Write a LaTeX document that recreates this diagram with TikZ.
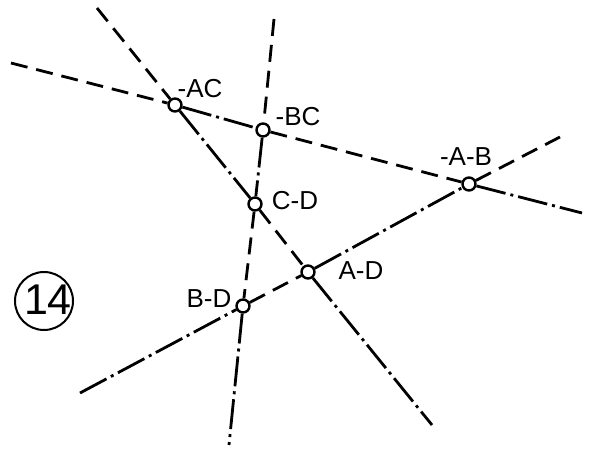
\documentclass[tikz,border=0pt]{standalone}
\usepackage{fontspec}
\setmainfont{Liberation Sans}
\begin{document}
\begin{tikzpicture}[x=1pt,y=-1pt,
  ln/.style={line width=2.8pt},
  dsh/.style={ln, dash pattern=on 17pt off 9pt},
  dd/.style={ln, dash pattern=on 30pt off 5pt on 3pt off 5pt},
  pt/.style={circle, draw, line width=2.4pt, fill=white, minimum size=13pt, inner sep=0pt},
  lab/.style={font=\fontsize{26}{30}\selectfont, inner sep=0pt}]
\useasboundingbox (0,0) rectangle (595,450);
% end points
\coordinate (l1a) at (11,63);
\coordinate (l1b) at (582,213);
\coordinate (l2a) at (97,8);
\coordinate (l2b) at (432,425);
\coordinate (l3a) at (274,19);
\coordinate (l3b) at (229,445);
\coordinate (l4a) at (80,393);
\coordinate (l4b) at (560,137);
% intersection points
\node[pt] (AC) at (175,105) {};
\node[pt] (BC) at (263,130) {};
\node[pt] (AB) at (469,184) {};
\node[pt] (CD) at (255,204) {};
\node[pt] (AD) at (308,272) {};
\node[pt] (BD) at (243,306) {};
% line 1
\draw[dsh] (l1a) -- (AC);
\draw[dd] (AC) -- (BC);
\draw[dsh] (BC) -- (AB);
\draw[dd] (AB) -- (l1b);
% line 2
\draw[dsh] (l2a) -- (AC);
\draw[dd] (AC) -- (CD);
\draw[dsh] (CD) -- (AD);
\draw[dd] (AD) -- (l2b);
% line 3
\draw[dsh] (l3a) -- (BC);
\draw[dd] (BC) -- (CD);
\draw[dsh] (CD) -- (BD);
\draw[dd] (BD) -- (l3b);
% line 4
\draw[dd] (l4a) -- (BD);
\draw[dsh] (BD) -- (AD);
\draw[dd] (AD) -- (AB);
\draw[dsh] (AB) -- (l4b);
% labels
\node[lab] (tAC) at (200,89) {-AC};
\node[lab] (tBC) at (298,117) {-BC};
\node[lab] (tAB) at (466,157) {-A-B};
\node[lab] (tCD) at (295,201) {C-D};
\node[lab] (tAD) at (361,271) {A-D};
\node[lab] (tBD) at (209,299) {B-D};
% figure number
\node[circle, draw, line width=2pt, minimum size=58pt, inner sep=0pt] (num) at (44,301) {};
\node[inner sep=0pt, font=\fontsize{43}{47}\selectfont] (numt) at (48,300) {14};
\end{tikzpicture}
\end{document}
